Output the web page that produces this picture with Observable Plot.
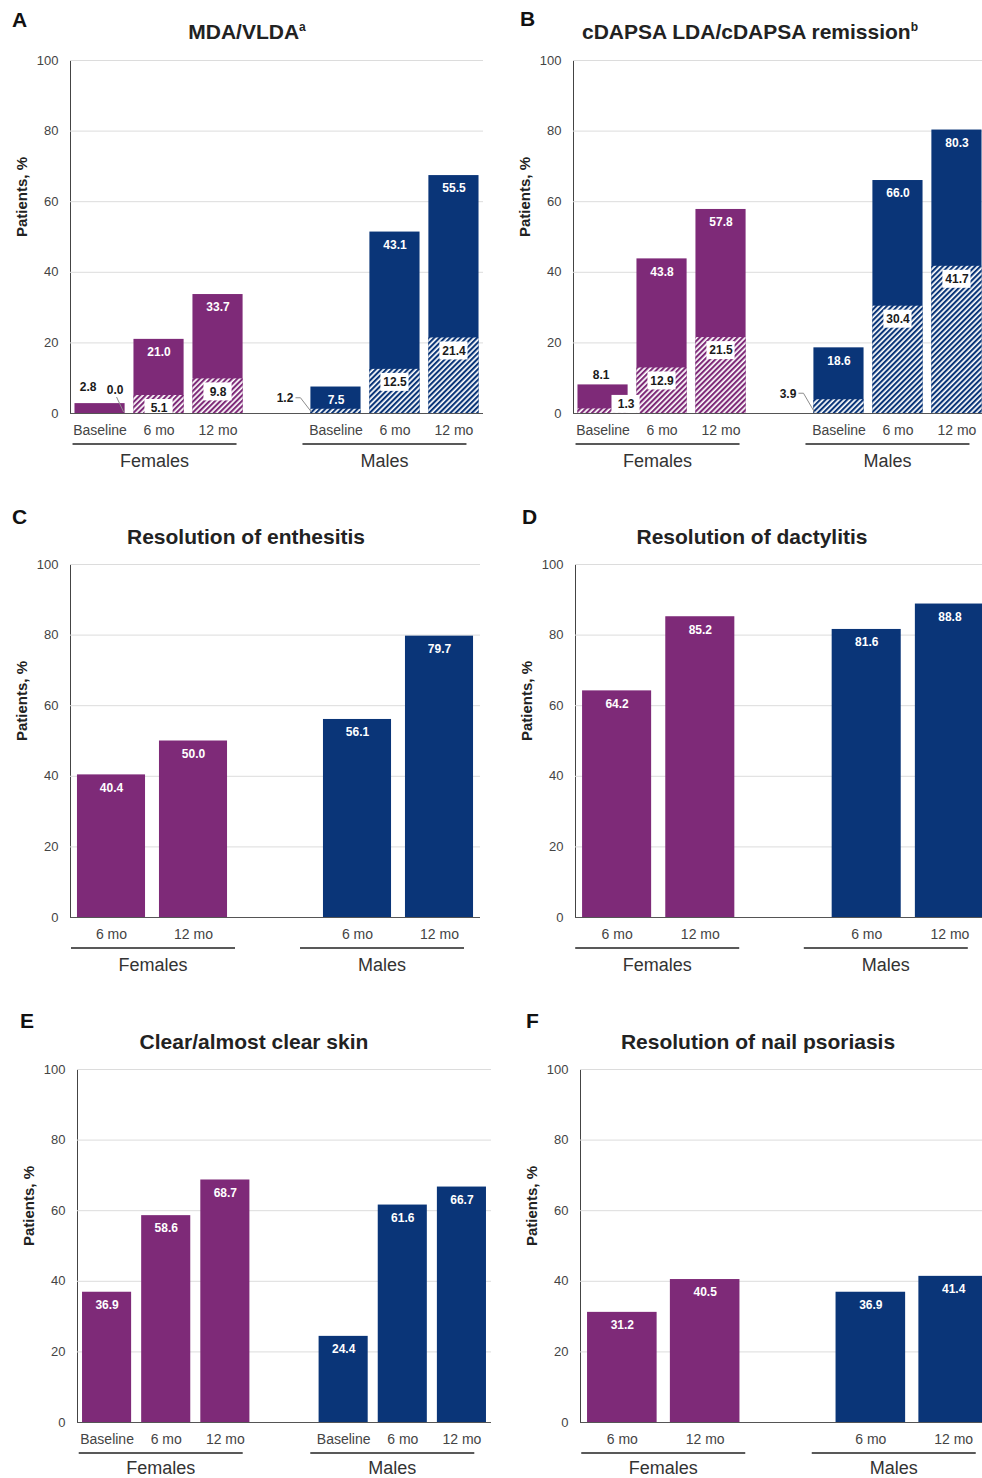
<!DOCTYPE html>
<html><head><meta charset="utf-8">
<script src="https://cdn.jsdelivr.net/npm/d3@7"></script>
<script src="https://cdn.jsdelivr.net/npm/@observablehq/plot@0.6"></script>
<style>
html,body{margin:0;padding:0;background:#fff;overflow:hidden;}
#root{position:relative;width:982px;height:1478px;overflow:hidden;font-family:"Liberation Sans",Arial,sans-serif;}
.holder{position:absolute;}
.holder svg{max-width:none !important;}
.letter{position:absolute;font-weight:bold;font-size:21px;color:#111;line-height:24px;}
.title{position:absolute;font-weight:bold;font-size:21px;color:#222;white-space:nowrap;transform:translateX(-50%);line-height:26px;}
.title sup{font-size:12px;vertical-align:8px;line-height:0;}
</style></head><body><div id="root"></div>
<script>
const PURPLE = "#7e2a78", NAVY = "#0a3578";
const groups = ["Females", "Males"];
const timesBase = ["Baseline", "6 mo", "12 mo"];
const timesFollow = ["6 mo", "12 mo"];
const yTicks = [0, 20, 40, 60, 80, 100];

// A: MDA (total) / VLDA (hatched)
const aFemTotal = [2.8, 21.0, 33.7];
const aFemSub = [0.0, 5.1, 9.8];
const aMaleTotal = [7.5, 51.4, 67.4];      // bar heights as drawn in the figure
const aMaleTotalLabel = [7.5, 43.1, 55.5]; // values printed on the bars
const aMaleSub = [1.2, 12.5, 21.4];
// B: cDAPSA LDA (total) / remission (hatched)
const bFemTotal = [8.1, 43.8, 57.8];
const bFemSub = [1.3, 12.9, 21.5];
const bMaleTotal = [18.6, 66.0, 80.3];
const bMaleSub = [3.9, 30.4, 41.7];
// C: enthesitis
const cFem = [40.4, 50.0];
const cMale = [56.1, 79.7];
// D: dactylitis
const dFem = [64.2, 85.2];
const dMale = [81.6, 88.8];
// E: skin
const eFem = [36.9, 58.6, 68.7];
const eMale = [24.4, 61.6, 66.7];
// F: nail
const fFem = [31.2, 40.5];
const fMale = [36.9, 41.4];

function buildRows(times, fT, fS, mT, mS, fL, mL) {
  const rows = [];
  times.forEach((t, i) => rows.push({group: "Females", time: t, key: "Females|" + t, total: fT[i],
    label: (fL || fT)[i], sub: fS ? fS[i] : null}));
  times.forEach((t, i) => rows.push({group: "Males", time: t, key: "Males|" + t, total: mT[i],
    label: (mL || mT)[i], sub: mS ? mS[i] : null}));
  return rows;
}
const fmt = v => v.toFixed(1);

function makePanel(cfg) {
  const rows = buildRows(cfg.times, cfg.fT, cfg.fS, cfg.mT, cfg.mS, cfg.fL, cfg.mL);
  const domain = [...rows.filter(d => d.group === "Females").map(d => d.key), "gap",
                  ...rows.filter(d => d.group === "Males").map(d => d.key)];
  const notes = cfg.notes || {};
  const stacked = rows.some(d => d.sub != null);
  const pid = cfg.id;
  const marks = [];
  // hatch pattern definitions
  marks.push(() => {
    const defs = d3.create("svg:defs");
    [["Females", PURPLE], ["Males", NAVY]].forEach(([g, c]) => {
      const p = defs.append("pattern").attr("id", `hatch-${pid}-${g}`)
        .attr("patternUnits", "userSpaceOnUse").attr("width", 3.8).attr("height", 3.8)
        .attr("patternTransform", "rotate(45)");
      p.append("rect").attr("width", 3.8).attr("height", 3.8).attr("fill", "white");
      p.append("rect").attr("width", 2.1).attr("height", 3.8).attr("fill", c);
    });
    return defs.node();
  });
  marks.push(Plot.ruleY(yTicks.filter(v => v > 0), {stroke: "#dcdcdc", strokeWidth: 1}));
  marks.push(Plot.barY(rows, {x: "key", y: "total", fill: d => d.group === "Females" ? PURPLE : NAVY}));
  if (stacked) {
    marks.push(Plot.barY(rows, {x: "key", y: "sub", fill: d => `url(#hatch-${pid}-${d.group})`}));
    const plainSub = rows.filter(d => !(notes[d.key] && notes[d.key].sub));
    marks.push(Plot.barY(plainSub, {x: "key", y1: "sub", y2: "sub", insetLeft: cfg.boxInset, insetRight: cfg.boxInset,
      insetTop: 4, insetBottom: -22, fill: "white"}));
    marks.push(Plot.text(plainSub, {x: "key", y: "sub", dy: 13, text: d => fmt(d.sub), fill: "#1a1a1a", fontWeight: "bold", fontSize: 12}));
    rows.filter(d => notes[d.key] && notes[d.key].sub).forEach(d => {
      const n = notes[d.key].sub;
      if (n.box) marks.push(Plot.barY([d], {x: "key", y1: "sub", y2: "sub", dx: n.dx, insetLeft: cfg.boxInset, insetRight: cfg.boxInset,
        insetTop: n.dy - 9, insetBottom: -(n.dy + 9), fill: "white"}));
      marks.push(Plot.text([d], {x: "key", y: "sub", dx: n.dx, dy: n.dy, text: d => fmt(d.sub), fill: "#1a1a1a", fontWeight: "bold", fontSize: 12}));
    });
  }
  const plainTot = rows.filter(d => !(notes[d.key] && notes[d.key].total));
  marks.push(Plot.text(plainTot, {x: "key", y: "total", dy: 13, text: d => fmt(d.label), fill: "white", fontWeight: "bold", fontSize: 12}));
  rows.filter(d => notes[d.key] && notes[d.key].total).forEach(d => {
    const n = notes[d.key].total;
    marks.push(Plot.text([d], {x: "key", y: "total", dx: n.dx, dy: n.dy, text: d => fmt(d.label), fill: "#1a1a1a", fontWeight: "bold", fontSize: 12}));
  });
  // leader lines
  marks.push((index, scales) => {
    const x = scales.x, y = scales.y;
    const g = d3.create("svg:g").attr("fill", "none").attr("stroke", "#8c8c8c").attr("stroke-width", 1);
    const bw = x.bandwidth ? x.bandwidth() : 0;
    rows.forEach(d => {
      const n = notes[d.key] && notes[d.key].sub;
      if (!n || !n.leader) return;
      const cx = x(d.key) + bw / 2, lx = cx + n.dx, ly = y(d.sub) + n.dy, y0 = y(0);
      if (n.leader === "left") g.append("path").attr("d", `M${lx + 11},${ly}H${lx + 16}L${x(d.key) + 1},${y0 - 1}`);
      else g.append("path").attr("d", `M${lx + 2},${ly + 7}L${x(d.key) + bw - 1},${y0 - 1}`);
    });
    return g.node();
  });
  // group labels
  marks.push((index, scales) => {
    const x = scales.x, y = scales.y;
    const g = d3.create("svg:g");
    const bw = x.bandwidth ? x.bandwidth() : 0, y0 = y(0);
    groups.forEach((grp, gi) => {
      const keys = domain.filter(k => k.startsWith(grp + "|"));
      const mid = (x(keys[0]) + x(keys[keys.length - 1]) + bw) / 2 + cfg.groupShift[gi];
      g.append("line").attr("x1", mid - 82).attr("x2", mid + 82).attr("y1", y0 + 31).attr("y2", y0 + 31)
        .attr("stroke", "#222").attr("stroke-width", 1.5);
      g.append("text").attr("x", mid).attr("y", y0 + cfg.groupDy).attr("text-anchor", "middle")
        .attr("font-size", 18).attr("fill", "#333").text(grp);
    });
    return g.node();
  });
  marks.push(Plot.ruleY([0], {stroke: "#555", strokeWidth: 1.2}));
  marks.push(Plot.text(["Patients, %"], {frameAnchor: "left", text: d => d, rotate: -90, dx: -48,
    fontWeight: "bold", fontSize: 15, fill: "#222"}));

  const svg = Plot.plot({
    width: cfg.width, height: 428,
    marginTop: 15, marginBottom: 60, marginLeft: cfg.marginLeft, marginRight: cfg.marginRight,
    style: {fontFamily: '"Liberation Sans", Arial, sans-serif', fontSize: "13px", color: "#444", background: "transparent", overflow: "visible"},
    x: {type: "band", domain, round: false, paddingInner: cfg.pad[0], paddingOuter: cfg.pad[1], tickSize: 0, tickPadding: 12,
        tickFormat: k => k.includes("|") ? k.split("|")[1] : "", label: null},
    y: {domain: [0, 100], ticks: yTicks, tickSize: 0, tickPadding: 12, label: null, line: true},
    color: {type: "identity"},
    marks
  });
  svg.querySelectorAll('[aria-label^="x-axis"]').forEach(e => { e.style.fontSize = "14px"; });
  svg.style.maxWidth = "none";
  svg.setAttribute("width", cfg.width);
  svg.setAttribute("height", 428);
  const holder = document.createElement("div");
  holder.className = "holder";
  holder.style.left = cfg.left + "px";
  holder.style.top = cfg.top + "px";
  holder.style.width = cfg.width + "px";
  holder.style.height = "428px";
  holder.appendChild(svg);
  document.getElementById("root").appendChild(holder);
}

function addText(cls, html, left, top) {
  const d = document.createElement("div");
  d.className = cls; d.innerHTML = html;
  d.style.left = left + "px"; d.style.top = top + "px";
  document.getElementById("root").appendChild(d);
}

makePanel({id: "A", times: timesBase, fT: aFemTotal, fS: aFemSub, mT: aMaleTotal, mS: aMaleSub, mL: aMaleTotalLabel,
  left: 0, top: 45, width: 491, marginLeft: 70, marginRight: 8, pad: [0.15, 0.076], boxInset: 11, groupShift: [-4, -10], groupDy: 54,
  notes: {
    "Females|Baseline": {total: {dx: -12, dy: -16}, sub: {dx: 15, dy: -23, leader: "down"}},
    "Males|Baseline": {sub: {dx: -51, dy: -11, leader: "left"}}
  }});
makePanel({id: "B", times: timesBase, fT: bFemTotal, fS: bFemSub, mT: bMaleTotal, mS: bMaleSub,
  left: 491, top: 45, width: 495, marginLeft: 82, marginRight: 0, pad: [0.15, 0.076], boxInset: 11, groupShift: [-4, -10], groupDy: 54,
  notes: {
    "Females|Baseline": {total: {dx: -2, dy: -10}, sub: {dx: 23, dy: -4.5, box: true}},
    "Males|Baseline": {sub: {dx: -51, dy: -6, leader: "left"}}
  }});
makePanel({id: "C", times: timesFollow, fT: cFem, mT: cMale,
  left: 0, top: 549, width: 491, marginLeft: 70, marginRight: 11, pad: [0.17, 0.085], groupShift: [1, -16], groupDy: 54});
makePanel({id: "D", times: timesFollow, fT: dFem, mT: dMale,
  left: 491, top: 549, width: 500, marginLeft: 84, marginRight: 0, pad: [0.17, 0.085], groupShift: [-1, -22], groupDy: 54});
makePanel({id: "E", times: timesBase, fT: eFem, mT: eMale,
  left: 0, top: 1054, width: 491, marginLeft: 77, marginRight: 0, pad: [0.17, 0.085], groupShift: [-5, -10], groupDy: 52});
makePanel({id: "F", times: timesFollow, fT: fFem, mT: fMale,
  left: 491, top: 1054, width: 504, marginLeft: 89, marginRight: 0, pad: [0.16, 0.085], groupShift: [0, -18], groupDy: 52});

addText("letter", "A", 12, 8);
addText("letter", "B", 520, 7);
addText("letter", "C", 12, 505);
addText("letter", "D", 522, 505);
addText("letter", "E", 20, 1009);
addText("letter", "F", 526, 1009);
addText("title", "MDA/VLDA<sup>a</sup>", 247, 19);
addText("title", "cDAPSA LDA/cDAPSA remission<sup>b</sup>", 750, 19);
addText("title", "Resolution of enthesitis", 246, 524);
addText("title", "Resolution of dactylitis", 752, 524);
addText("title", "Clear/almost clear skin", 254, 1029);
addText("title", "Resolution of nail psoriasis", 758, 1029);
</script></body></html>
